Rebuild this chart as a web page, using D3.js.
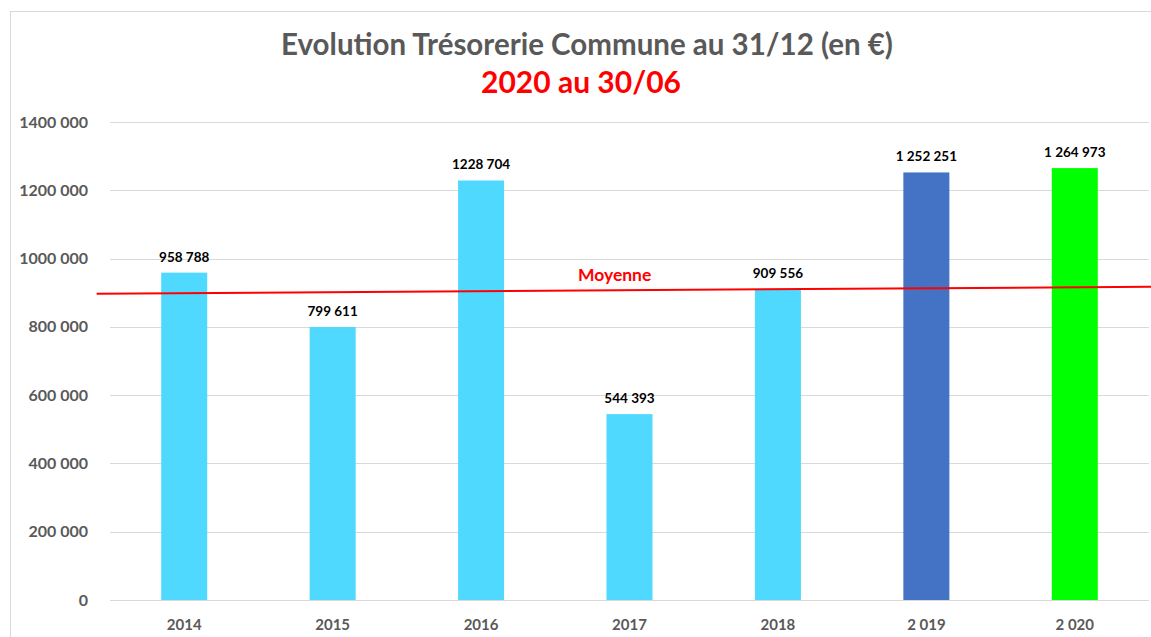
<!DOCTYPE html>
<html>
  <head>
    <style>
      body { margin: 0; background: #fff; }
      .title { font: bold 29.5px Lato, sans-serif; fill: #595959; text-anchor: middle; }
      .subtitle { font: bold 30px Lato, sans-serif; fill: #ff0000; text-anchor: middle; }
      .tick-label { font: bold 16px Lato, sans-serif; fill: #595959; }
      .x-label { font: bold 15px Lato, sans-serif; fill: #595959; }
      .value-label { font: bold 13.5px Lato, sans-serif; fill: #000; text-anchor: middle; }
      .moyenne-label { font: bold 17.5px Lato, sans-serif; fill: #ff0000; text-anchor: middle; }
      .grid line { stroke: #d9d9d9; stroke-width: 1; }
      .moyenne { fill: none; stroke: #ff0000; stroke-width: 2; }
    </style>
  </head>
  <body>
    <script src="https://d3js.org/d3.v7.min.js"></script>
    <svg></svg>
    <script>
      // chart data
      const years = ["2014", "2015", "2016", "2017", "2018", "2 019", "2 020"];
      const values = [958788, 799611, 1228704, 544393, 909556, 1252251, 1264973];
      const valueLabels = ["958 788", "799 611", "1228 704", "544 393", "909 556", "1 252 251", "1 264 973"];
      const barColors = ["#4fd9ff", "#4fd9ff", "#4fd9ff", "#4fd9ff", "#4fd9ff", "#4472c4", "#00ff00"];
      const yTicks = [0, 200000, 400000, 600000, 800000, 1000000, 1200000, 1400000];
      const yTickLabels = ["0", "200 000", "400 000", "600 000", "800 000", "1000 000", "1200 000", "1400 000"];
      // hand drawn "Moyenne" line: position in bar slots, value
      const moyenneSlots = [-0.59, 6.52];
      const moyenneValues = [897000, 917500];

      const W = 1151, H = 637;
      const margin = { top: 122, right: 2, bottom: 37, left: 110 };
      const width = W - margin.left - margin.right;
      const height = H - margin.top - margin.bottom;

      const root = d3.select("svg").attr("width", W).attr("height", H);

      // chart frame
      root.append("rect")
        .attr("x", 10.5).attr("y", 11.5)
        .attr("width", W + 10).attr("height", H + 10)
        .attr("fill", "none").attr("stroke", "#d9d9d9");

      root.append("text").attr("class", "title")
        .attr("x", 587).attr("y", 55)
        .text("Evolution Trésorerie Commune au 31/12 (en €)");
      root.append("text").attr("class", "subtitle")
        .attr("x", 581).attr("y", 93)
        .text("2020 au 30/06");

      const svg = root.append("g")
        .attr("transform", `translate(${margin.left},${margin.top})`);

      const x = d3.scaleBand().domain(years).range([0, width])
        .paddingInner(0.69).paddingOuter(0.345);
      const y = d3.scaleLinear().domain([0, 1400000]).range([height, 0]);

      // gridlines
      svg.append("g").attr("class", "grid")
        .selectAll("line")
        .data(yTicks)
        .join("line")
        .attr("x1", 0).attr("x2", width)
        .attr("y1", d => Math.round(y(d)) + 0.5)
        .attr("y2", d => Math.round(y(d)) + 0.5);

      // y axis labels
      svg.append("g")
        .call(d3.axisLeft(y).tickValues(yTicks).tickSize(0).tickPadding(22)
          .tickFormat((d, i) => yTickLabels[i]))
        .call(g => g.select(".domain").remove())
        .call(g => g.selectAll("text").attr("class", "tick-label").attr("fill", null));

      // x axis labels
      svg.append("g")
        .attr("transform", `translate(0,${height})`)
        .call(d3.axisBottom(x).tickSize(0).tickPadding(19))
        .call(g => g.select(".domain").remove())
        .call(g => g.selectAll("text").attr("class", "x-label").attr("fill", null));

      // bars
      svg.selectAll(".bar")
        .data(values)
        .join("rect")
        .attr("class", "bar")
        .attr("x", (d, i) => x(years[i]))
        .attr("width", x.bandwidth())
        .attr("y", d => y(d))
        .attr("height", d => height - y(d))
        .attr("fill", (d, i) => barColors[i]);

      // value labels
      svg.selectAll(".value-label")
        .data(values)
        .join("text")
        .attr("class", "value-label")
        .attr("x", (d, i) => x(years[i]) + x.bandwidth() / 2)
        .attr("y", d => y(d) - 11)
        .text((d, i) => valueLabels[i]);

      // moyenne line
      const slot = d3.scaleLinear()
        .domain([0, years.length - 1])
        .range([x(years[0]) + x.bandwidth() / 2, x(years[years.length - 1]) + x.bandwidth() / 2]);
      const pts = moyenneSlots.map((s, i) => [slot(s), y(moyenneValues[i])]);
      svg.append("path").attr("class", "moyenne").attr("d", d3.line()(pts));

      svg.append("text").attr("class", "moyenne-label")
        .attr("x", slot(2.9))
        .attr("y", y(moyenneValues[0]) - 13)
        .text("Moyenne");
    </script>
  </body>
</html>
